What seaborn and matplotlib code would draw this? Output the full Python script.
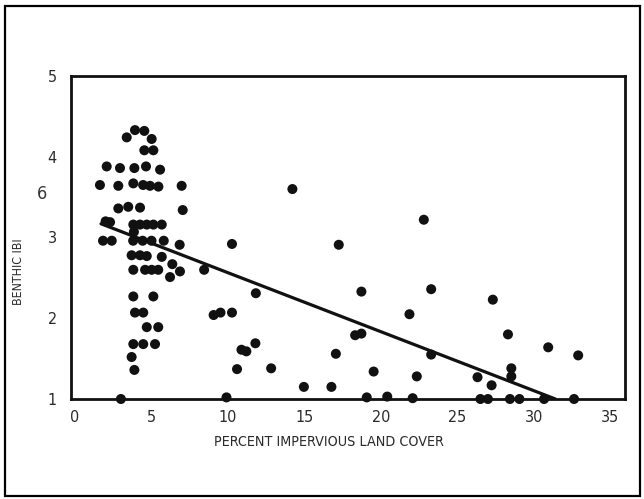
import matplotlib
matplotlib.use('Agg')
import matplotlib.pyplot as plt
import seaborn as sns
import pandas as pd
from matplotlib.patches import Rectangle

# ---- data ----
impervious = [
    3.38, 3.92, 4.53, 5.01, 4.53, 5.12,
    2.07, 2.94, 3.88, 4.64, 5.56,
    1.63, 2.83, 3.81, 4.45, 4.90, 5.45, 6.97,
    2.83, 3.48, 4.25, 7.04,
    2.00, 2.29, 3.81, 4.25, 4.69, 5.12, 5.67, 3.85,
    1.83, 2.40, 3.80, 4.42, 5.00, 5.80, 6.84,
    3.70, 4.25, 4.69, 5.67, 6.36,
    3.81, 4.58, 5.01, 5.44, 6.86, 6.21,
    3.81, 5.12, 3.92, 4.46, 4.69, 5.44,
    3.81, 4.46, 5.23, 3.70, 3.88, 3.00,
    8.44, 9.06, 9.51, 10.26, 9.90, 10.26, 10.59, 10.88, 11.20, 11.79,
    11.82, 12.82, 14.21, 14.96, 16.76, 17.05, 17.24, 18.31, 18.72, 18.72,
    19.07, 19.52, 20.41, 21.86, 22.07, 22.34, 22.80, 23.28, 23.28, 26.31,
    26.50, 26.99, 27.23, 27.31, 28.30, 28.52, 28.52, 28.43, 29.05, 30.66,
    30.93, 32.62, 32.89,
]
benthic_ibi = [
    4.24, 4.33, 4.32, 4.22, 4.08, 4.08,
    3.88, 3.86, 3.86, 3.88, 3.84,
    3.65, 3.64, 3.67, 3.65, 3.64, 3.63, 3.64,
    3.36, 3.38, 3.37, 3.34,
    3.20, 3.19, 3.16, 3.16, 3.16, 3.16, 3.16, 3.07,
    2.96, 2.96, 2.96, 2.96, 2.96, 2.96, 2.91,
    2.78, 2.78, 2.77, 2.76, 2.67,
    2.60, 2.60, 2.60, 2.60, 2.58, 2.51,
    2.27, 2.27, 2.07, 2.07, 1.89, 1.89,
    1.68, 1.68, 1.68, 1.52, 1.36, 1.00,
    2.60, 2.04, 2.07, 2.07, 1.02, 2.92, 1.37, 1.61, 1.59, 1.69,
    2.31, 1.38, 3.60, 1.15, 1.15, 1.56, 2.91, 1.79, 1.81, 2.33,
    1.02, 1.34, 1.03, 2.05, 1.01, 1.28, 3.22, 2.36, 1.55, 1.27,
    1.00, 1.00, 1.17, 2.23, 1.80, 1.38, 1.28, 1.00, 1.00, 1.00,
    1.64, 1.00, 1.54,
]
trend_x = [1.7, 31.4]
trend_y = [3.17, 1.00]

x_ticks = [0, 5, 10, 15, 20, 25, 30, 35]
y_ticks = [1, 2, 3, 4, 5]

df = pd.DataFrame({"x": impervious, "y": benthic_ibi})
line_df = pd.DataFrame({"x": trend_x, "y": trend_y})

sns.set_theme(style='white')
plt.rcParams['font.family'] = ['DejaVu Sans']
plt.rcParams['font.stretch'] = 'condensed'

fig = plt.figure(figsize=(6.44, 4.99), dpi=100)
ax = fig.add_axes([0.1096, 0.2004, 0.8609, 0.6473])

sns.scatterplot(data=df, x="x", y="y", ax=ax, s=52, color='#111111',
                edgecolor='none', linewidth=0, clip_on=False, zorder=3)
sns.lineplot(data=line_df, x="x", y="y", ax=ax, color='#111111', lw=2.3,
             zorder=4)

ax.set_xlim(-0.29, 35.95)
ax.set_ylim(1, 5)
ax.set_xticks(x_ticks)
ax.set_yticks(y_ticks)
ax.set_xticklabels([str(v) for v in x_ticks])
ax.set_yticklabels([str(v) for v in y_ticks])
ax.tick_params(axis='both', length=0, labelsize=11.5, colors='#2a2a2a')
ax.tick_params(axis='x', pad=8)
ax.tick_params(axis='y', pad=10)
ax.set_xlabel('')
ax.set_ylabel('')
for sp in ax.spines.values():
    sp.set_visible(True)
    sp.set_color('#111111')
    sp.set_linewidth(2.0)
ax.grid(False)

fig.text(329 / 644, 1 - 441.7 / 499, 'PERCENT IMPERVIOUS LAND COVER',
         ha='center', va='center', fontsize=10.3, color='#2a2a2a')
fig.text(19 / 644, 1 - 272 / 499, 'BENTHIC IBI', rotation=90,
         ha='center', va='center', fontsize=8.8, color='#2a2a2a')
fig.text(42 / 644, 1 - 194 / 499, '6', ha='center', va='center',
         fontsize=13, color='#333333')

fig.patches.append(Rectangle((5 / 644, 3 / 499), 635 / 644, 490 / 499,
                             transform=fig.transFigure, fill=False,
                             edgecolor='black', linewidth=1.6))

fig.savefig('out.png', dpi=100, facecolor='white')
